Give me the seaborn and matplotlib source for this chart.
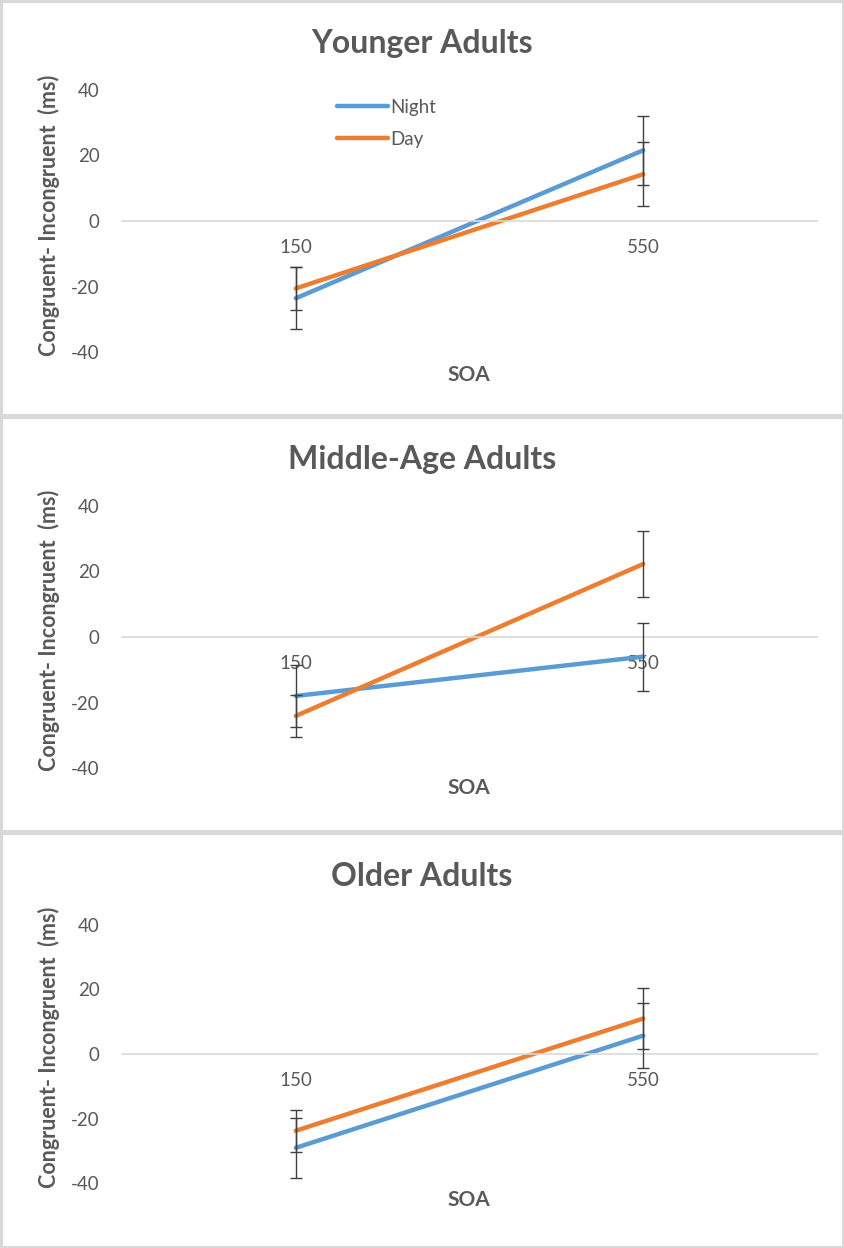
import numpy as np
import pandas as pd
import matplotlib
matplotlib.use("Agg")
import matplotlib.pyplot as plt
from matplotlib.patches import Rectangle
from matplotlib.ticker import FuncFormatter
import seaborn as sns

# values
soa = ["150", "550"]
groups = ["Younger Adults", "Middle-Age Adults", "Older Adults"]
night_mean = [[-23.6, 21.6], [-18.0, -6.0], [-29.1, 5.7]]
day_mean = [[-20.6, 14.3], [-24.1, 22.3], [-23.8, 11.0]]
night_err = [[9.5, 10.5], [9.5, 10.4], [9.3, 10.1]]
day_err = [[6.6, 9.8], [6.4, 10.0], [6.5, 9.6]]

BLUE = "#5B9BD5"
ORANGE = "#ED7D31"
TEXT = "#595959"

sns.set_theme(style="white")
plt.rcParams["font.family"] = ["Lato", "DejaVu Sans"]

W, H = 844, 1248
fig = plt.figure(figsize=(W / 100, H / 100), dpi=100)

panel_top = [0, 416, 832]
panel_h = 416
axis_top = [90, 506, 925]
axis_bot = [352, 768, 1183]
title_y = [43, 459, 876]
soa_y = [375, 788, 1200]
ylab_y = [215, 630, 1047]


def fx(px):
    return px / W


def fy(py):
    return 1 - py / H


for i, grp in enumerate(groups):
    top = panel_top[i]
    # chart-area border
    fig.patches.append(Rectangle((fx(1), fy(top + panel_h - 1)), fx(W - 2), (panel_h - 2) / H,
                                 transform=fig.transFigure, fill=False,
                                 edgecolor="#d9d9d9", lw=2.2))

    ax = fig.add_axes([fx(122), fy(axis_bot[i]), fx(817 - 122),
                       (axis_bot[i] - axis_top[i]) / H])

    df = pd.DataFrame({
        "x": [0, 1, 0, 1],
        "val": night_mean[i] + day_mean[i],
        "cond": ["Night", "Night", "Day", "Day"],
    })
    sns.lineplot(data=df, x="x", y="val", hue="cond", hue_order=["Night", "Day"],
                 palette=[BLUE, ORANGE], lw=3.2, ax=ax, legend=(i == 0),
                 solid_capstyle="round")
    ax.errorbar([0, 1], night_mean[i], yerr=night_err[i], fmt="none",
                ecolor="#404040", elinewidth=1, capsize=4.3, capthick=1, zorder=5)
    ax.errorbar([0, 1], day_mean[i], yerr=day_err[i], fmt="none",
                ecolor="#404040", elinewidth=1, capsize=4.3, capthick=1, zorder=5)

    ax.set_xlim(-0.5, 1.5)
    ax.set_ylim(-40, 40)
    ax.set_yticks([-40, -20, 0, 20, 40])
    ax.yaxis.set_major_formatter(FuncFormatter(lambda v, p: "%d" % v))
    ax.set_xticks([0, 1])
    ax.set_xticklabels(soa)
    for s in ["top", "right", "left"]:
        ax.spines[s].set_visible(False)
    ax.spines["bottom"].set_position(("data", 0))
    ax.spines["bottom"].set_color("#d9d9d9")
    ax.spines["bottom"].set_linewidth(1.2)
    ax.tick_params(axis="both", length=0, labelsize=13.5, labelcolor=TEXT)
    ax.tick_params(axis="x", pad=13)
    ax.tick_params(axis="y", pad=16)
    ax.set_xlabel("")
    ax.set_ylabel("")
    ax.patch.set_alpha(0)

    fig.text(0.5, fy(title_y[i]), grp, ha="center", va="center",
             fontsize=23, fontweight="bold", color=TEXT)
    fig.text(fx(469), fy(soa_y[i]), "SOA", ha="center", va="center",
             fontsize=15, fontweight="bold", color=TEXT)
    fig.text(fx(49), fy(ylab_y[i]), "Congruent- Incongruent  (ms)",
             ha="center", va="center", rotation=90, fontsize=15.5,
             fontweight="bold", color=TEXT)

    if i == 0:
        leg = ax.legend(frameon=False, loc="upper left",
                        bbox_to_anchor=((320 - 122) / 695, 1.03),
                        handlelength=2.7, labelspacing=0.8, handletextpad=0.15,
                        fontsize=13.5)
        for t in leg.get_texts():
            t.set_color(TEXT)
        for h in leg.get_lines():
            h.set_linewidth(3.2)

fig.savefig("out.png", dpi=100)
